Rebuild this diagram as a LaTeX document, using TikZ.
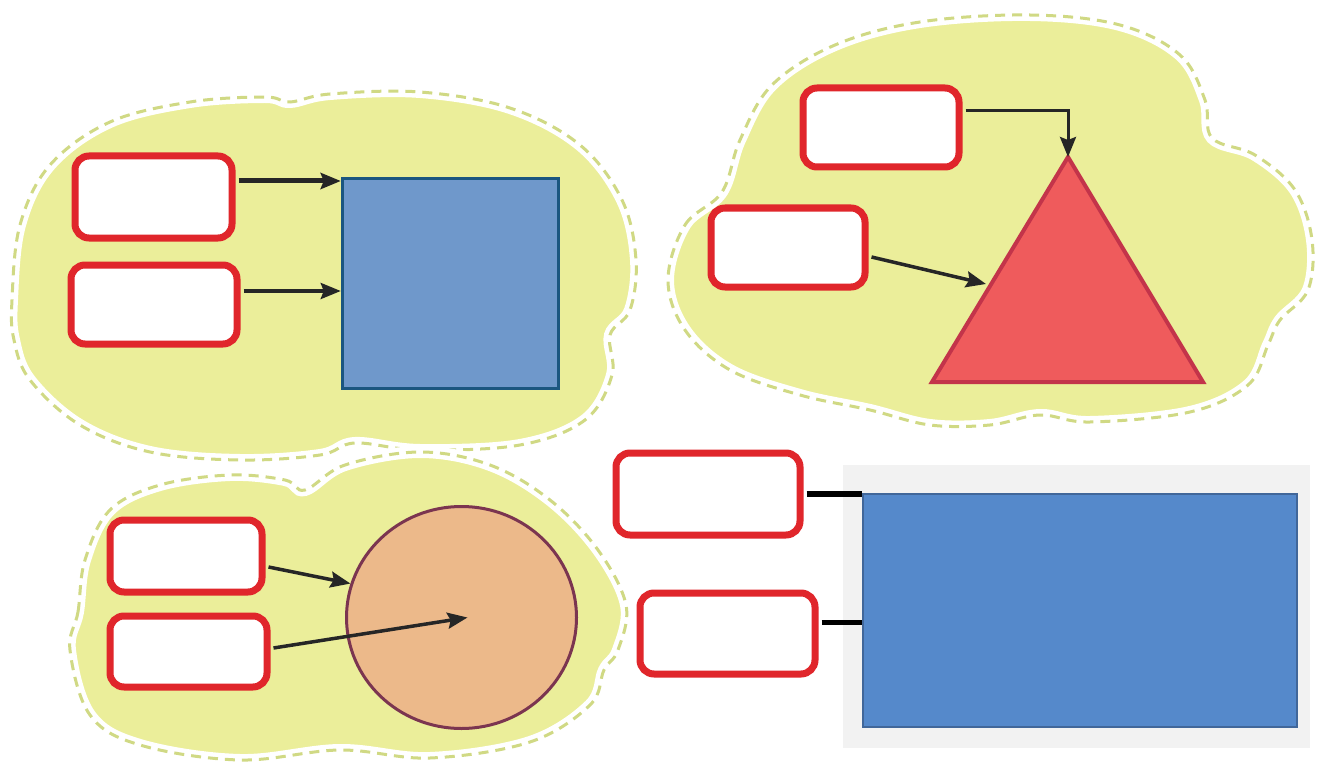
\documentclass[tikz,border=0pt]{standalone}
\usetikzlibrary{arrows.meta,shapes.geometric,calc}
\definecolor{cloudfill}{HTML}{EBEE9A}
\definecolor{cloudline}{HTML}{D0D984}
\definecolor{boxred}{HTML}{E0262B}
\definecolor{sqfill}{HTML}{6F98CB}
\definecolor{sqline}{HTML}{1B5680}
\definecolor{trifill}{HTML}{EF5B5C}
\definecolor{triline}{HTML}{C3344A}
\definecolor{circfill}{HTML}{ECB98A}
\definecolor{circline}{HTML}{7B3550}
\definecolor{bggray}{HTML}{F2F2F2}
\definecolor{rectfill}{HTML}{5589CB}
\definecolor{rectline}{HTML}{41679A}
\definecolor{arrowc}{HTML}{262626}
\tikzset{
  cloudblob/.style={fill=cloudfill,
    postaction={draw=white,line width=12pt},
    postaction={draw=cloudline,line width=3pt,dash pattern=on 10pt off 7pt}},
  lbl/.style={draw=boxred,line width=7pt,rounded corners=14pt,fill=white,
    inner sep=0pt,rectangle},
  arr/.style={draw=arrowc,line width=3.5pt,-{Stealth[length=20pt,width=16pt,inset=3pt]}},
  conn/.style={draw=black,line width=6pt},
}
\begin{document}
\begin{tikzpicture}[x=1pt,y=-1pt]
\useasboundingbox[fill=white] (0,0) rectangle (1319,762);
% clouds
\path[cloudblob] plot[smooth cycle,tension=0.6] coordinates {
 (12,300) (20,225) (50,165) (110,122) (190,102) (265,97) (290,102) (330,94)
 (420,92) (510,108) (580,145) (622,200) (636,260) (630,310) (610,335)
 (612,375) (585,420) (520,445) (420,450) (355,443) (320,455) (240,460)
 (150,452) (80,425) (30,380) (14,340)};
\path[cloudblob] plot[smooth cycle,tension=0.6] coordinates {
 (668,280) (685,225) (722,192) (740,140) (772,85) (835,45) (920,22)
 (1030,15) (1120,25) (1180,55) (1205,100) (1212,138) (1255,155) (1295,190)
 (1312,240) (1308,290) (1280,320) (1268,345) (1248,385) (1190,412)
 (1090,422) (1040,415) (990,425) (930,425) (870,410) (800,395) (730,370)
 (685,330)};
\path[cloudblob] plot[smooth cycle,tension=0.6] coordinates {
 (70,650) (78,612) (85,560) (110,510) (160,485) (230,475) (285,480)
 (305,490) (345,465) (420,452) (490,465) (550,500) (598,550) (626,605)
 (618,650) (604,670) (590,705) (530,742) (430,758) (340,750) (240,760)
 (140,745) (90,715)};
% bottom right panel
\node[fill=bggray,inner sep=0pt,minimum width=467pt,minimum height=283pt] (bg) at (1076.5,606.5) {};
\node[fill=rectfill,draw=rectline,line width=2pt,inner sep=0pt,minimum width=434pt,minimum height=233pt] (r4) at (1080,610.5) {};
% shapes
\node[fill=sqfill,draw=sqline,line width=3.5pt,inner sep=0pt,minimum width=216pt,minimum height=210pt] (sq) at (450.5,283.5) {};
\path[fill=trifill,draw=triline,line width=4pt,line join=miter]
  (1068,157) coordinate (apex) -- (1203,382) coordinate (tright) -- (932,382) coordinate (tbase) -- cycle;
\coordinate (tleft) at (986,284);
\node[ellipse,fill=circfill,draw=circline,line width=3pt,inner sep=0pt,minimum width=230pt,minimum height=222pt] (circ) at (461.5,617.5) {};
% label boxes
\node[lbl,minimum width=157pt,minimum height=82pt] (box1a) at (153.5,197) {};
\node[lbl,minimum width=166pt,minimum height=79pt] (box1b) at (154,304.5) {};
\node[lbl,minimum width=156pt,minimum height=79pt] (box2a) at (881,127.5) {};
\node[lbl,minimum width=154pt,minimum height=79pt] (box2b) at (788,247.5) {};
\node[lbl,minimum width=152pt,minimum height=72pt] (box3a) at (186,556) {};
\node[lbl,minimum width=157pt,minimum height=71pt] (box3b) at (188.5,651.5) {};
\node[lbl,minimum width=184pt,minimum height=82pt] (box4a) at (708,494) {};
\node[lbl,minimum width=175pt,minimum height=81pt] (box4b) at (727.5,633.5) {};
% connectors
\coordinate (a1) at ([yshift=16pt,xshift=3pt]box1a.east);
\coordinate (a2) at ([yshift=13.5pt,xshift=3pt]box1b.east);
\draw[arr,line width=5pt] (a1) -- (a1 -| sq.west);
\draw[arr] (a2) -- (a2 -| sq.west);
\coordinate (b1) at ([yshift=16.5pt,xshift=3pt]box2a.east);
\draw[arr,line width=3pt] (b1) -| (apex);
\draw[arr] ([yshift=-9.5pt,xshift=3pt]box2b.east) -- (tleft);
\draw[arr] ([yshift=-11pt,xshift=3pt]box3a.east) -- (circ.163);
\draw[arr] ([yshift=3.5pt,xshift=3pt]box3b.east) -- ([xshift=6pt]circ.center);
\coordinate (c1) at ([xshift=3pt]box4a.east);
\coordinate (c2) at ([yshift=11.5pt,xshift=3pt]box4b.east);
\draw[conn] (c1) -- (c1 -| r4.west);
\draw[conn,line width=5pt] (c2) -- (c2 -| r4.west);
\end{tikzpicture}
\end{document}
